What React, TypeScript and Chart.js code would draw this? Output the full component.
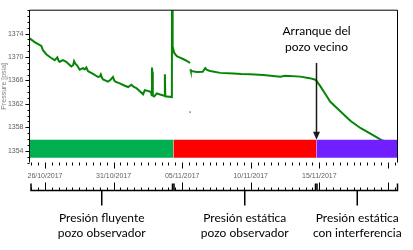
import React, { useEffect, useRef } from "react";
import { Chart, registerables } from "chart.js";

Chart.register(...registerables);

// ---- axis ranges / ticks ----
const xMinDay = -0.13; // days from 25/10/2017 00:00
const xMaxDay = 26.7;
const yMin = 1352;
const yMax = 1378;
const xTickDays = [1, 6, 11, 16, 21];
const xTickLabels = ["26/10/2017", "31/10/2017", "05/11/2017", "10/11/2017", "15/11/2017"];
const xMajorDays = [1, 6, 11, 16, 21, 26];
const yTickValues = [1354, 1358, 1362, 1366, 1370, 1374];
const yTickLabels = ["1354", "1358", "1362", "1366", "1370", "1374"];

// ---- pressure series (day, psia) ----
const flowDays = [-0.12, 0.1, 0.25, 0.5, 0.73, 0.85, 1.09, 1.3, 1.46, 1.71, 1.9, 2.0, 2.07, 2.31, 2.55, 2.8, 2.92, 3.05, 3.12, 3.2, 3.36, 3.53, 3.77, 3.9, 4.01, 4.14, 4.5, 4.87, 5.0, 5.07, 5.15, 5.23, 5.6, 5.8, 5.96, 6.05, 6.13, 6.45, 6.82, 7.06, 7.3, 7.45, 7.66, 8.03, 8.15, 8.28, 8.57, 8.72, 8.78, 8.8, 8.83, 8.86, 8.96, 9.15, 9.39, 9.63, 9.72, 9.74, 9.77, 9.88, 10.25];
const flowValues = [1373.19, 1372.8, 1372.54, 1372.2, 1371.9, 1371.18, 1370.49, 1370.1, 1369.84, 1369.47, 1369.95, 1369.3, 1369.2, 1369.47, 1369.2, 1368.66, 1368.39, 1368.6, 1369.3, 1368.9, 1368.5, 1367.85, 1368.11, 1367.9, 1368.23, 1367.58, 1367.14, 1366.6, 1366.7, 1367.05, 1366.5, 1366.17, 1365.8, 1366.17, 1366.6, 1366.0, 1365.8, 1365.5, 1365.1, 1364.88, 1365.27, 1364.95, 1364.72, 1363.91, 1363.65, 1364.35, 1364.19, 1364.03, 1363.5, 1368.2, 1367.4, 1363.4, 1363.27, 1363.8, 1363.6, 1363.43, 1363.4, 1367.05, 1363.3, 1363.27, 1363.17];

const buildupDays = [10.26, 10.28, 10.31, 10.33, 10.42, 10.61, 10.85, 11.1, 11.34, 11.58];
const buildupValues = [1381, 1376, 1373.2, 1371.8, 1370.7, 1370.16, 1369.89, 1369.63, 1369.36, 1368.99];

const staticDays = [11.6, 11.63, 12.07, 12.5, 12.68, 12.8, 13.04, 13.77, 14.75, 15.3, 15.96, 16.93, 18.15, 18.52, 19.61, 20.3, 20.71, 20.78];
const staticValues = [1367.9, 1367.63, 1367.47, 1367.5, 1368.11, 1367.8, 1367.63, 1367.3, 1367.2, 1367.1, 1367.05, 1366.93, 1366.66, 1366.82, 1366.66, 1366.4, 1366.13, 1365.96];

const interfDays = [21.07, 21.44, 21.8, 22.53, 23.26, 23.99, 24.5, 25.45, 26.0, 26.7];
const interfValues = [1365.04, 1363.7, 1362.36, 1360.75, 1359.13, 1357.89, 1357.24, 1355.95, 1355.3, 1354.6];

const outlierDays = [11.58];
const outlierValues = [1360.6];

// ---- period bands ----
const periodStarts = [xMinDay, 10.36, 20.78];
const periodEnds = [10.36, 20.78, xMaxDay];
const periodColors = ["#00B050", "#FF0000", "#7020FF"];
const bandTop = 1355.9;
const bandBottom = 1352.83;
const periodLine1 = ["Presión fluyente", "Presión estática", "Presión estática"];
const periodLine2 = ["pozo observador", "pozo observador", "con interferencia"];

const arrowDay = 20.78;
const arrowTopValue = 1369.0;
const arrowText = ["Arranque del", "pozo vecino"];

function pts(days: number[], vals: number[]) {
  return days.map((d, i) => ({ x: d, y: vals[i] }));
}

const overlay = {
  id: "overlay",
  afterDraw(chart: any) {
    const ctx = chart.ctx as CanvasRenderingContext2D;
    const { left, right, top, bottom } = chart.chartArea;
    const xs = chart.scales.x;
    const ys = chart.scales.y;
    const px = (d: number) => xs.getPixelForValue(d);
    const py = (v: number) => ys.getPixelForValue(v);
    ctx.save();
    ctx.strokeStyle = "#000";
    ctx.lineWidth = 1;
    // frame
    ctx.beginPath();
    ctx.moveTo(left, bottom);
    ctx.lineTo(left, top);
    ctx.lineTo(right, top);
    ctx.lineTo(right, bottom);
    ctx.stroke();
    // y ticks
    ctx.beginPath();
    for (let v = yMin; v <= yMax; v++) {
      const y = Math.round(py(v)) + 0.5;
      const len = yTickValues.includes(v) ? 4 : 2;
      ctx.moveTo(left - len, y);
      ctx.lineTo(left, y);
    }
    ctx.stroke();
    // x ticks, top row and bracket row
    const yB = bottom + 28;
    ctx.beginPath();
    for (let d = Math.ceil(xMinDay * 2) / 2; d <= xMaxDay + 1e-6; d += 0.5) {
      const x = Math.round(px(d)) + 0.5;
      const major = xMajorDays.some((m) => Math.abs(m - d) < 1e-6);
      ctx.moveTo(x, bottom);
      ctx.lineTo(x, bottom + (major ? 6 : 3));
      ctx.moveTo(x, yB);
      ctx.lineTo(x, yB - (major ? 8 : 3));
    }
    ctx.stroke();
    // brackets
    ctx.lineWidth = 1.5;
    ctx.font = "12px Lato";
    ctx.fillStyle = "#000";
    ctx.textAlign = "center";
    ctx.textBaseline = "middle";
    for (let i = 0; i < periodStarts.length; i++) {
      const x0 = Math.round(px(periodStarts[i])) + 1;
      const x1 = Math.round(px(periodEnds[i])) - 0.5;
      const xc = (x0 + x1) / 2;
      ctx.beginPath();
      ctx.moveTo(x0, yB - 7);
      ctx.lineTo(x0, yB);
      ctx.lineTo(x1, yB);
      ctx.lineTo(x1, yB - 7);
      ctx.moveTo(xc, yB);
      ctx.lineTo(xc, yB + 15);
      ctx.stroke();
      ctx.fillText(periodLine1[i], xc, yB + 27.5);
      ctx.fillText(periodLine2[i], xc, yB + 43);
    }
    // arrow
    const ax = Math.round(px(arrowDay)) + 0.5;
    const yTop = py(arrowTopValue);
    const yTip = py(bandTop);
    ctx.strokeStyle = "#1a1a1a";
    ctx.fillStyle = "#1a1a1a";
    ctx.lineWidth = 1.5;
    ctx.beginPath();
    ctx.moveTo(ax, yTop);
    ctx.lineTo(ax, yTip - 6);
    ctx.stroke();
    ctx.beginPath();
    ctx.moveTo(ax - 3.5, yTip - 8);
    ctx.lineTo(ax + 3.5, yTip - 8);
    ctx.lineTo(ax, yTip);
    ctx.closePath();
    ctx.fill();
    ctx.fillStyle = "#000";
    ctx.fillText(arrowText[0], ax, yTop - 32);
    ctx.fillText(arrowText[1], ax, yTop - 16);
    ctx.restore();
  },
};

export default function App() {
  const ref = useRef<HTMLCanvasElement>(null);
  useEffect(() => {
    document.body.style.margin = "0";
    const bands = periodStarts.map((s, i) => ({
      data: [
        { x: s, y: bandTop },
        { x: periodEnds[i], y: bandTop },
      ],
      fill: { value: bandBottom },
      backgroundColor: periodColors[i],
      borderWidth: 0,
      pointRadius: 0,
    }));
    const curve = [
      ...pts(flowDays, flowValues),
      ...pts(buildupDays, buildupValues),
      { x: 11.59, y: null },
      ...pts(staticDays, staticValues),
      ...pts(interfDays, interfValues),
    ];
    const chart = new Chart(ref.current!, {
      type: "line",
      data: {
        datasets: [
          ...bands,
          {
            data: curve,
            borderColor: "#058505",
            borderWidth: 2,
            pointRadius: 0,
            fill: false,
            spanGaps: false,
            tension: 0,
          },
          {
            data: pts(outlierDays, outlierValues),
            showLine: false,
            pointRadius: 1,
            pointStyle: "rect",
            backgroundColor: "#058505",
            borderColor: "#058505",
            borderWidth: 0,
          },
        ] as any,
      },
      options: {
        animation: false,
        responsive: false,
        devicePixelRatio: 1,
        layout: { padding: { top: 1.5, right: 15.5, left: 0, bottom: 0 } },
        plugins: { legend: { display: false }, tooltip: { enabled: false } },
        scales: {
          x: {
            type: "linear",
            min: xMinDay,
            max: xMaxDay,
            grid: { display: false, drawTicks: false },
            border: { display: false },
            afterBuildTicks: (s: any) => {
              s.ticks = xTickDays.map((v) => ({ value: v }));
            },
            afterFit: (s: any) => {
              s.height = 87.5;
            },
            ticks: {
              autoSkip: false,
              maxRotation: 0,
              padding: 9,
              color: "#606060",
              font: { family: "Liberation Sans", size: 7 },
              callback: (v: any) => {
                const i = xTickDays.indexOf(Number(v));
                return i >= 0 ? xTickLabels[i] : "";
              },
            },
          },
          y: {
            min: yMin,
            max: yMax,
            grid: { display: false, drawTicks: false },
            border: { display: false },
            afterBuildTicks: (s: any) => {
              s.ticks = yTickValues.map((v) => ({ value: v }));
            },
            afterFit: (s: any) => {
              s.width = 29.5;
            },
            ticks: {
              padding: 6,
              color: "#606060",
              font: { family: "Liberation Sans", size: 7 },
              callback: (v: any) => {
                const i = yTickValues.indexOf(Number(v));
                return i >= 0 ? yTickLabels[i] : "";
              },
            },
            title: {
              display: true,
              text: "Pressure [psia]",
              color: "#808080",
              font: { family: "Liberation Sans", size: 7 },
              padding: 0,
            },
          },
        },
      },
      plugins: [overlay],
    } as any);
    return () => chart.destroy();
  }, []);
  return (
    <div style={{ width: 413, height: 250 }}>
      <canvas ref={ref} width={413} height={250} />
    </div>
  );
}
